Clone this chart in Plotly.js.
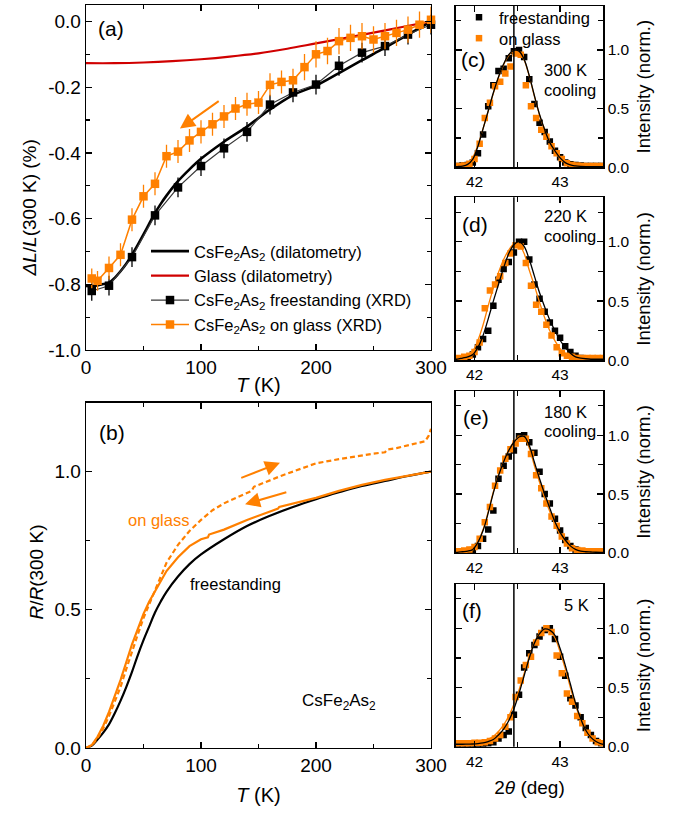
<!DOCTYPE html>
<html><head><meta charset="utf-8">
<script src="https://cdn.plot.ly/plotly-3.0.1.min.js"></script>
<style>html,body{margin:0;padding:0;background:#fff}</style>
</head><body><div id="chart" style="width:690px;height:813px"></div>
<script>
// ---------- Panel (a): thermal expansion ----------
const tempDil = [0,5,10,15,20,25,30,35,40,45,50,55,60,65,70,80,90,100,120,140,160,180,200,220,240,260,280,300];
const dilCsFe2As2 = [-0.805,-0.805,-0.803,-0.799,-0.795,-0.78,-0.76,-0.737,-0.71,-0.68,-0.648,-0.615,-0.583,-0.555,-0.53,-0.486,-0.45,-0.418,-0.366,-0.32,-0.268,-0.224,-0.195,-0.157,-0.118,-0.08,-0.04,0.0];
const tempGlass = [0,25,50,75,100,125,150,175,200,225,250,275,300];
const dilGlass = [-0.127,-0.127,-0.125,-0.121,-0.115,-0.107,-0.097,-0.083,-0.067,-0.051,-0.034,-0.017,0.0];
const tempXrdFree = [5,20,40,60,80,100,120,140,160,180,200,220,240,260,280,300];
const xrdFree = [-0.82,-0.804,-0.717,-0.59,-0.505,-0.44,-0.386,-0.336,-0.253,-0.216,-0.192,-0.135,-0.095,-0.075,-0.04,-0.01];
const xrdFreeErr = [0.03,0.03,0.03,0.03,0.03,0.03,0.03,0.03,0.03,0.03,0.03,0.03,0.03,0.03,0.03,0.03];
const tempXrdGlass = [5,10,20,30,40,50,60,70,80,90,100,110,120,130,140,150,160,170,180,190,200,210,220,230,240,250,260,270,280,290,300];
const xrdGlass = [-0.782,-0.789,-0.75,-0.71,-0.603,-0.532,-0.494,-0.41,-0.396,-0.362,-0.336,-0.313,-0.289,-0.265,-0.252,-0.247,-0.193,-0.184,-0.179,-0.139,-0.10,-0.09,-0.06,-0.05,-0.045,-0.055,-0.045,-0.035,-0.025,-0.01,0.005];
const xrdGlassErr = [0.03,0.03,0.035,0.035,0.035,0.035,0.035,0.035,0.035,0.035,0.035,0.035,0.035,0.035,0.035,0.035,0.035,0.035,0.035,0.04,0.04,0.04,0.04,0.04,0.04,0.04,0.04,0.04,0.04,0.04,0.04];
const yTicksA = [-1,-0.8,-0.6,-0.4,-0.2,0];
const yTickTextA = ['-1.0','-0.8','-0.6','-0.4','-0.2','0.0'];
const tTicks = [0,100,200,300];
const tTickText = ['0','100','200','300'];

// ---------- Panel (b): resistance ----------
const tempRFree = [0,5,10,15,20,25,30,35,40,45,50,55,60,65,70,80,90,100,120,140,160,180,200,220,240,260,280,300];
const rFree = [0,0.008,0.03,0.055,0.085,0.125,0.17,0.22,0.275,0.335,0.39,0.44,0.49,0.53,0.565,0.62,0.665,0.70,0.755,0.803,0.84,0.872,0.90,0.925,0.948,0.966,0.984,1.0];
const tempRCool = [0,5,10,15,20,25,30,35,40,45,50,55,60,65,70,80,90,100,106,107,120,140,160,167,168,180,200,220,240,260,280,300];
const rGlassCool = [0,0.01,0.04,0.08,0.13,0.185,0.245,0.31,0.375,0.43,0.485,0.53,0.565,0.6,0.64,0.69,0.73,0.755,0.762,0.772,0.79,0.825,0.855,0.866,0.872,0.885,0.905,0.93,0.952,0.97,0.986,1.0];
const tempRHeat = [0,5,10,15,20,25,30,35,40,45,50,55,60,65,70,80,90,100,110,120,130,140,144,146,150,160,170,180,190,200,220,240,250,260,262,270,280,290,295,298,300];
const rGlassHeat = [0,0.008,0.035,0.07,0.115,0.165,0.22,0.285,0.35,0.41,0.47,0.52,0.57,0.625,0.67,0.735,0.785,0.825,0.86,0.885,0.905,0.922,0.93,0.945,0.952,0.968,0.985,1.0,1.015,1.03,1.045,1.06,1.065,1.07,1.08,1.085,1.095,1.105,1.11,1.13,1.155];
const yTicksB = [0,0.5,1.0];
const yTickTextB = ['0.0','0.5','1.0'];

// ---------- Panels (c)-(f): XRD peaks ----------
const twoTheta = [41.80,41.86,41.92,41.98,42.04,42.10,42.16,42.22,42.28,42.34,42.40,42.46,42.52,42.58,42.64,42.70,42.76,42.82,42.88,42.94,43.00,43.06,43.12,43.18,43.24,43.30,43.36,43.42,43.48];
const twoThetaGlass = [41.82,41.88,41.94,42.00,42.06,42.12,42.18,42.24,42.30,42.36,42.42,42.48,42.54,42.60,42.66,42.72,42.78,42.84,42.90,42.96,43.02,43.08,43.14,43.20,43.26,43.32,43.38,43.44,43.50];
const fitTheta = [41.78,41.80,41.86,41.92,41.98,42.04,42.10,42.16,42.22,42.28,42.34,42.40,42.46,42.52,42.58,42.64,42.70,42.76,42.82,42.88,42.94,43.00,43.06,43.12,43.18,43.24,43.30,43.36,43.42,43.48,43.51];
const refLine2Theta = 42.46;
const intTicks = [0,0.5,1.0];
const intTickText = ['0.0','0.5','1.0'];
const thetaTicks = [42,43];
const thetaTickText = ['42','43'];

// (c) 300 K
const freeC = [0.012,0.015,0.02,0.04,0.12,0.28,0.52,0.70,0.82,0.84,0.93,0.99,1.0,0.94,0.75,0.54,0.38,0.30,0.22,0.14,0.085,0.04,0.025,0.02,0.015,0.012,0.01,0.01,0.01];
const glassC = [0.01,0.015,0.03,0.07,0.20,0.42,0.55,0.69,0.73,0.80,0.86,0.97,0.96,0.70,0.52,0.42,0.32,0.26,0.18,0.12,0.07,0.035,0.02,0.015,0.012,0.01,0.01,0.01,0.01];
const fitFreeC = [0.005,0.006,0.01,0.025,0.07,0.18,0.33,0.48,0.635,0.77,0.88,0.96,0.997,0.99,0.92,0.78,0.61,0.45,0.32,0.21,0.14,0.08,0.04,0.02,0.012,0.008,0.006,0.005,0.005,0.005,0.005];
const fitGlassC = [0.008,0.01,0.018,0.035,0.085,0.19,0.33,0.48,0.63,0.765,0.875,0.955,0.995,0.985,0.915,0.775,0.605,0.445,0.315,0.21,0.135,0.08,0.045,0.025,0.015,0.012,0.01,0.01,0.01,0.01,0.01];
// (d) 220 K
const freeD = [0.01,0.012,0.02,0.05,0.11,0.18,0.25,0.46,0.68,0.77,0.83,0.91,1.0,1.0,0.85,0.64,0.52,0.41,0.32,0.25,0.19,0.12,0.07,0.04,0.02,0.012,0.01,0.01,0.01];
const glassD = [0.02,0.03,0.04,0.07,0.15,0.44,0.59,0.64,0.71,0.82,0.90,0.97,0.96,0.82,0.63,0.47,0.41,0.30,0.21,0.11,0.06,0.04,0.03,0.02,0.02,0.02,0.02,0.02,0.02];
const fitFreeD = [0.01,0.01,0.02,0.03,0.05,0.11,0.21,0.35,0.50,0.64,0.78,0.90,0.975,1.0,0.96,0.85,0.71,0.57,0.45,0.34,0.25,0.17,0.11,0.06,0.03,0.02,0.014,0.01,0.01,0.01,0.01];
const fitGlassD = [0.015,0.015,0.03,0.05,0.08,0.17,0.30,0.46,0.61,0.74,0.85,0.93,0.98,0.975,0.90,0.76,0.63,0.49,0.36,0.25,0.165,0.10,0.06,0.035,0.025,0.02,0.02,0.02,0.02,0.02,0.02];
// (e) 180 K
const freeE = [0.005,0.008,0.012,0.025,0.06,0.12,0.20,0.36,0.63,0.74,0.82,0.87,0.99,1.0,0.94,0.85,0.69,0.50,0.42,0.29,0.19,0.11,0.06,0.03,0.015,0.01,0.008,0.006,0.005];
const glassE = [0.015,0.02,0.03,0.05,0.12,0.26,0.39,0.57,0.70,0.80,0.88,0.93,0.97,0.97,0.84,0.66,0.55,0.42,0.31,0.23,0.14,0.08,0.04,0.025,0.02,0.015,0.015,0.015,0.015];
const fitFreeE = [0.005,0.005,0.01,0.015,0.03,0.09,0.19,0.34,0.51,0.655,0.775,0.87,0.94,0.985,0.99,0.91,0.77,0.63,0.50,0.38,0.265,0.175,0.11,0.06,0.03,0.015,0.01,0.008,0.006,0.005,0.005];
const fitGlassE = [0.015,0.015,0.02,0.03,0.045,0.10,0.20,0.35,0.52,0.665,0.78,0.875,0.945,0.985,0.98,0.89,0.74,0.60,0.465,0.35,0.24,0.155,0.09,0.05,0.03,0.02,0.015,0.015,0.015,0.015,0.015];
// (f) 5 K
const freeF = [0.02,0.02,0.02,0.02,0.022,0.025,0.03,0.04,0.07,0.10,0.13,0.27,0.44,0.67,0.79,0.86,0.93,0.985,1.0,0.91,0.76,0.60,0.41,0.35,0.25,0.16,0.10,0.05,0.03];
const glassF = [0.03,0.03,0.03,0.035,0.035,0.04,0.05,0.07,0.10,0.17,0.25,0.42,0.56,0.69,0.76,0.88,0.96,1.0,0.97,0.77,0.62,0.45,0.38,0.26,0.20,0.12,0.07,0.04,0.03];
const fitFreeF = [0.022,0.022,0.022,0.023,0.024,0.027,0.033,0.045,0.062,0.10,0.15,0.22,0.32,0.45,0.60,0.75,0.875,0.955,0.995,0.985,0.94,0.83,0.69,0.53,0.37,0.24,0.14,0.08,0.045,0.025,0.02];
const fitGlassF = [0.03,0.03,0.03,0.032,0.035,0.04,0.05,0.065,0.09,0.13,0.185,0.26,0.36,0.48,0.62,0.76,0.88,0.96,0.995,0.98,0.92,0.80,0.66,0.50,0.35,0.23,0.14,0.08,0.05,0.035,0.03];

// ---------- styling ----------
const F = 'Liberation Sans, Arial, sans-serif';
const ORANGE = '#FF8000';
const RED = '#D00000';
const W = 690, H = 813;
const px = v => v / W;
const py = v => 1 - v / H;

function frame(o) {
  return Object.assign({
    showline: true, linecolor: '#000', linewidth: 1.3, mirror: 'ticks',
    ticks: 'inside', ticklen: 6, tickwidth: 1.2, tickcolor: '#000',
    showgrid: false, zeroline: false, fixedrange: true,
    tickfont: {family: F, size: 19, color: '#000'}
  }, o);
}
function minor(t0, dt, len) {
  return {ticks: 'inside', ticklen: len, tickwidth: 1.1, tickcolor: '#000', tickmode: 'linear', tick0: t0, dtick: dt, showgrid: false};
}

const traces = [];
// (a)
traces.push({x: tempDil, y: dilCsFe2As2, xaxis: 'x', yaxis: 'y', mode: 'lines', line: {color: '#000', width: 2.6, shape: 'spline'},
  name: 'CsFe<sub>2</sub>As<sub>2</sub> (dilatometry)', legend: 'legend'});
traces.push({x: tempGlass, y: dilGlass, xaxis: 'x', yaxis: 'y', mode: 'lines', line: {color: RED, width: 2.2, shape: 'spline'},
  name: 'Glass (dilatometry)', legend: 'legend'});
traces.push({x: tempXrdFree, y: xrdFree, xaxis: 'x', yaxis: 'y', mode: 'lines+markers', cliponaxis: false,
  line: {color: '#3a3a3a', width: 1.2}, marker: {symbol: 'square', size: 8.5, color: '#000'},
  error_y: {type: 'data', array: xrdFreeErr, visible: true, color: '#000', thickness: 1.3, width: 0},
  name: 'CsFe<sub>2</sub>As<sub>2</sub> freestanding (XRD)', legend: 'legend'});
traces.push({x: tempXrdGlass, y: xrdGlass, xaxis: 'x', yaxis: 'y', mode: 'lines+markers', cliponaxis: false,
  line: {color: ORANGE, width: 1.5}, marker: {symbol: 'square', size: 8.5, color: ORANGE},
  error_y: {type: 'data', array: xrdGlassErr, visible: true, color: ORANGE, thickness: 1.3, width: 0},
  name: 'CsFe<sub>2</sub>As<sub>2</sub> on glass (XRD)', legend: 'legend'});
// (b)
traces.push({x: tempRFree, y: rFree, xaxis: 'x2', yaxis: 'y2', mode: 'lines', line: {color: '#000', width: 2.2, shape: 'spline'}, showlegend: false, name: 'freestanding'});
traces.push({x: tempRHeat, y: rGlassHeat, xaxis: 'x2', yaxis: 'y2', mode: 'lines', line: {color: ORANGE, width: 2.2, dash: '5px,3px'}, showlegend: false, name: 'on glass heating'});
traces.push({x: tempRCool, y: rGlassCool, xaxis: 'x2', yaxis: 'y2', mode: 'lines', line: {color: ORANGE, width: 2.2}, showlegend: false, name: 'on glass cooling'});

// (c)-(f)
const peakSets = [
  [freeC, glassC, fitFreeC, fitGlassC],
  [freeD, glassD, fitFreeD, fitGlassD],
  [freeE, glassE, fitFreeE, fitGlassE],
  [freeF, glassF, fitFreeF, fitGlassF]
];
peakSets.forEach((s, i) => {
  const xa = 'x' + (i + 3), ya = 'y' + (i + 3);
  const first = i === 0;
  traces.push({x: twoTheta, y: s[0], xaxis: xa, yaxis: ya, mode: 'markers', marker: {symbol: 'square', size: 6.5, color: '#000'},
    name: 'freestanding', showlegend: first, legend: 'legend2'});
  traces.push({x: twoThetaGlass, y: s[1], xaxis: xa, yaxis: ya, mode: 'markers', marker: {symbol: 'square', size: 6.5, color: ORANGE},
    name: 'on glass', showlegend: first, legend: 'legend3'});
  traces.push({x: fitTheta, y: s[3], xaxis: xa, yaxis: ya, mode: 'lines', line: {color: ORANGE, width: 1.3, shape: 'spline'}, showlegend: false});
  traces.push({x: fitTheta, y: s[2], xaxis: xa, yaxis: ya, mode: 'lines', line: {color: '#000', width: 1.3, shape: 'spline'}, showlegend: false});
});

const xDomAB = [px(86), px(431)];
const xDomR = [px(455.7), px(603.3)];
const legFont = {family: F, size: 16.5, color: '#000'};
const layout = {
  width: W, height: H, margin: {l: 0, r: 0, t: 0, b: 0},
  paper_bgcolor: '#fff', plot_bgcolor: 'rgba(0,0,0,0)',
  font: {family: F, color: '#000'},
  showlegend: true,
  legend: {x: px(146), y: py(232.5), xanchor: 'left', yanchor: 'top', bgcolor: 'rgba(0,0,0,0)',
    font: legFont, itemwidth: 38, tracegroupgap: 0},
  legend2: {x: px(459), y: py(-2), xanchor: 'left', yanchor: 'top', bgcolor: 'rgba(0,0,0,0)', font: legFont, itemwidth: 30},
  legend3: {x: px(459), y: py(19), xanchor: 'left', yanchor: 'top', bgcolor: 'rgba(0,0,0,0)', font: legFont, itemwidth: 30},
  xaxis: frame({domain: xDomAB, anchor: 'y', range: [0, 300], tickmode: 'array', tickvals: tTicks, ticktext: tTickText,
    minor: minor(0, 50, 4), title: {text: '<i>T</i> (K)', font: {family: F, size: 20}, standoff: 0}}),
  yaxis: frame({domain: [py(349), py(3)], anchor: 'x', range: [-1, 0.05], tickmode: 'array', tickvals: yTicksA, ticktext: yTickTextA,
    minor: minor(0, 0.1, 4)}),
  xaxis2: frame({domain: xDomAB, anchor: 'y2', range: [0, 300], tickmode: 'array', tickvals: tTicks, ticktext: tTickText,
    minor: minor(0, 50, 4), title: {text: '<i>T</i> (K)', font: {family: F, size: 20}, standoff: 13}}),
  yaxis2: frame({domain: [py(747.7), py(401.5)], anchor: 'x2', range: [0, 1.25], tickmode: 'array', tickvals: yTicksB, ticktext: yTickTextB,
    minor: minor(0, 0.25, 4)}),
  annotations: [], shapes: []
};
const rightTops = [4, 195.7, 390, 583.3];
const rightBots = [165.7, 359.3, 552.3, 746.7];
for (let i = 0; i < 4; i++) {
  const n = i + 3;
  const xa = frame({domain: xDomR, anchor: 'y' + n, range: [41.78, 43.505], tickmode: 'array', tickvals: thetaTicks, ticktext: thetaTickText,
    minor: minor(42, 0.5, 5), ticklen: 6, tickfont: {family: F, size: 15.5, color: '#000'}});
  if (i === 3) xa.title = {text: '2<i>θ</i> (deg)', font: {family: F, size: 19}, standoff: 12};
  layout['xaxis' + n] = xa;
  layout['yaxis' + n] = frame({domain: [py(rightBots[i]), py(rightTops[i])], anchor: 'x' + n, side: 'right', range: [0, 1.375],
    tickmode: 'array', tickvals: intTicks, ticktext: intTickText, minor: minor(0, 0.25, 5), ticklen: 6,
    tickfont: {family: F, size: 15.5, color: '#000'},
    title: {text: 'Intensity (norm.)', font: {family: F, size: 18.5}, standoff: 8}});
  layout.shapes.push({type: 'line', xref: 'x' + n, yref: 'y' + n + ' domain', x0: refLine2Theta, x1: refLine2Theta, y0: 0, y1: 1,
    line: {color: '#000', width: 1.5}});
}

function txt(text, x, y, size, opts) {
  return Object.assign({text: text, xref: 'paper', yref: 'paper', x: px(x), y: py(y), showarrow: false,
    xanchor: 'left', yanchor: 'middle', font: {family: F, size: size, color: '#000'}}, opts || {});
}
layout.annotations.push(
  txt('<i>ΔL</i>/<i>L</i>(300 K) (%)', 29, 207, 19, {xanchor: 'center', textangle: -90}),
  txt('<i>R</i>/<i>R</i>(300 K)', 37, 572, 19, {xanchor: 'center', textangle: -90}),
  txt('(a)', 111, 27, 21, {xanchor: 'center'}),
  txt('(b)', 112, 432, 21, {xanchor: 'center'}),
  txt('on glass', 126, 519, 16.5, {font: {family: F, size: 16.5, color: ORANGE}}),
  txt('freestanding', 188, 583, 16.5),
  txt('CsFe<sub>2</sub>As<sub>2</sub>', 300, 702, 17),
  txt('(c)', 473, 58, 21, {xanchor: 'center'}),
  txt('(d)', 475, 223, 21, {xanchor: 'center'}),
  txt('(e)', 476, 417, 21, {xanchor: 'center'}),
  txt('(f)', 472, 610, 21, {xanchor: 'center'}),
  txt('300 K', 542, 68, 16.5), txt('cooling', 542, 88, 16.5),
  txt('220 K', 542, 215, 16.5), txt('cooling', 542, 235, 16.5),
  txt('180 K', 542, 411, 16.5), txt('cooling', 542, 430, 16.5),
  txt('5 K', 562, 604, 16.5)
);
// arrows (heating / cooling direction markers)
const arrowStyle = {showarrow: true, arrowhead: 2, arrowsize: 1.5, arrowwidth: 2, arrowcolor: ORANGE};
layout.annotations.push(Object.assign({xref: 'x', yref: 'y', axref: 'x', ayref: 'y', x: 81.7, y: -0.326, ax: 118, ay: -0.236}, arrowStyle));
layout.annotations.push(Object.assign({xref: 'x2', yref: 'y2', axref: 'x2', ayref: 'y2', x: 168.7, y: 1.032, ax: 132.4, ay: 0.973}, arrowStyle));
layout.annotations.push(Object.assign({xref: 'x2', yref: 'y2', axref: 'x2', ayref: 'y2', x: 138.3, y: 0.882, ax: 176.8, ay: 0.928}, arrowStyle));

Plotly.newPlot('chart', traces, layout, {staticPlot: true, displayModeBar: false});
</script></body></html>
